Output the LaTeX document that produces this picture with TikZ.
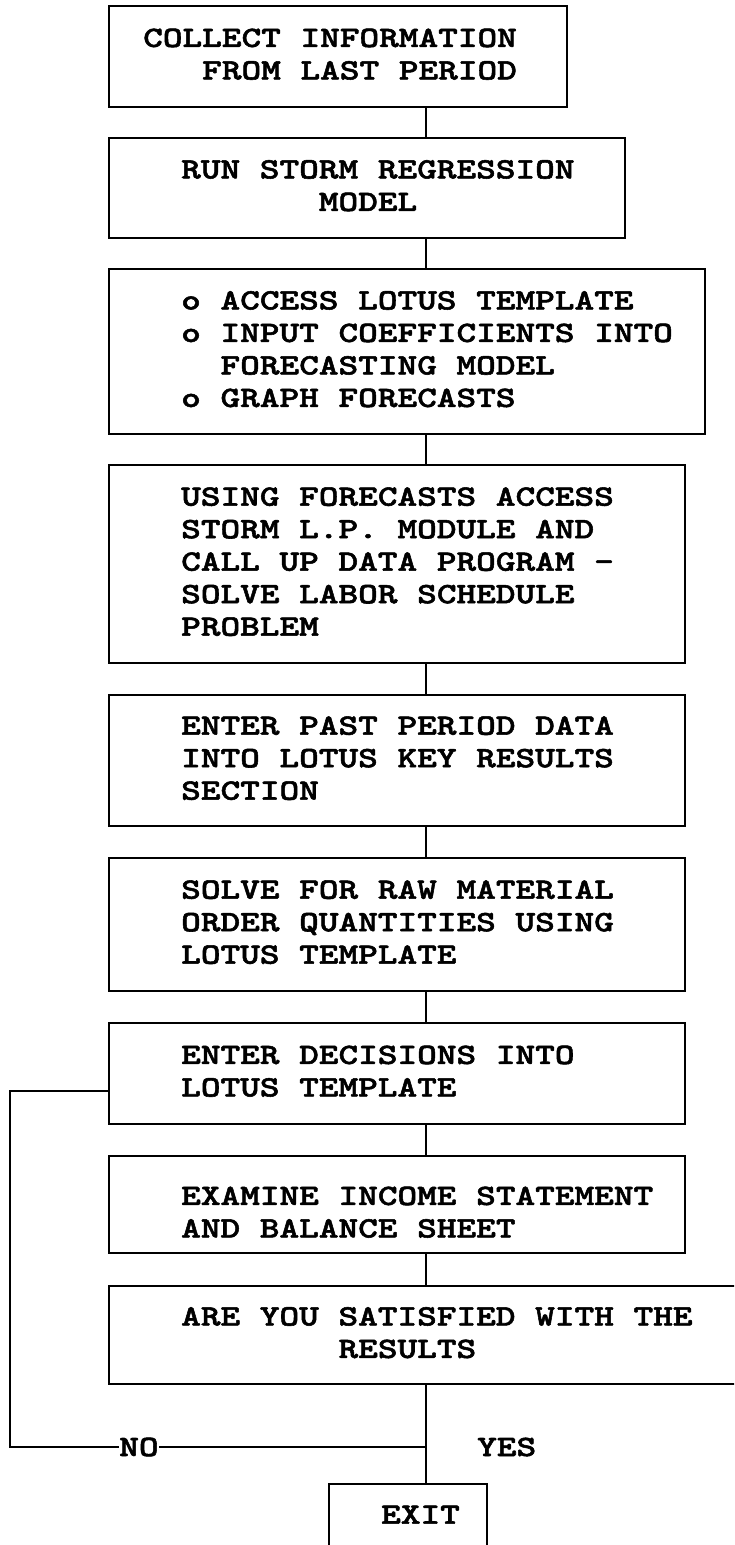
\documentclass[tikz,border=0pt]{standalone}
\usepackage{fontspec}
\newfontfamily\flowfont{lmmonolt10-bold.otf}[FakeStretch=1.27, FakeBold=1.8]
\usetikzlibrary{positioning}

% indented block of lines inside a box; every space is one character wide
\ExplSyntaxOn
\tl_new:N \l_flow_lines_tl
\NewDocumentCommand{\flowlines}{mm}{
  \tl_set:Nn \l_flow_lines_tl {#2}
  \tl_replace_all:Nnn \l_flow_lines_tl {~} {\phantom{X}}
  \hspace*{#1pt}\begin{tabular}{@{}l@{}}\tl_use:N \l_flow_lines_tl\end{tabular}
}
\ExplSyntaxOff
% blank of n characters
\newcommand{\chars}[1]{\phantom{#1}}
\newcommand{\flowtype}{\flowfont\fontsize{29.5}{32.5}\selectfont}

\begin{document}
\begin{tikzpicture}[x=1pt, y=1pt,
  stepbox/.style={draw, line width=2.4pt, inner sep=0pt, anchor=north west,
    font=\flowtype},
  link/.style={line width=2pt},
  answer/.style={inner sep=0pt, font=\flowtype}]
  \useasboundingbox (0,0) rectangle (734,-1545);
  \clip (0,0) rectangle (734,-1545);

  \node[stepbox, text width=458pt, minimum height=101pt] (collect) at (108,-5)
    {\flowlines{34}{COLLECT INFORMATION\\\chars{XXX}FROM LAST PERIOD}};
  \node[stepbox, text width=516pt, minimum height=100pt] (run) at (108,-137)
    {\flowlines{72}{RUN STORM REGRESSION\\\chars{XXXXXXX}MODEL}};
  \node[stepbox, text width=596pt, minimum height=165pt] (bullets) at (108,-268)
    {\flowlines{72}{o ACCESS LOTUS TEMPLATE\\o INPUT COEFFICIENTS INTO\\%
      \chars{XX}FORECASTING MODEL\\o GRAPH FORECASTS}};
  \node[stepbox, text width=576pt, minimum height=198pt] (using) at (108,-464)
    {\flowlines{72}{USING FORECASTS ACCESS\\STORM L.P. MODULE AND\\%
      CALL UP DATA PROGRAM -\\SOLVE LABOR SCHEDULE\\PROBLEM}};
  \node[stepbox, text width=576pt, minimum height=131pt] (past) at (108,-694)
    {\flowlines{72}{ENTER PAST PERIOD DATA\\INTO LOTUS KEY RESULTS\\SECTION}};
  \node[stepbox, text width=576pt, minimum height=133pt] (solve) at (108,-857)
    {\flowlines{72}{SOLVE FOR RAW MATERIAL\\ORDER QUANTITIES USING\\LOTUS TEMPLATE}};
  \node[stepbox, text width=576pt, minimum height=101pt] (decide) at (108,-1022)
    {\flowlines{72}{ENTER DECISIONS INTO\\LOTUS TEMPLATE}};
  % text sits a little low in this one
  \node[stepbox, text width=576pt, minimum height=97pt] (examine) at (108,-1155)
    {\flowlines{72}{\rule{0pt}{42.75pt}EXAMINE INCOME STATEMENT\\AND BALANCE SHEET}};
  % runs past the right edge
  \node[stepbox, text width=660pt, minimum height=98pt] (satisfy) at (108,-1285)
    {\flowlines{72}{ARE YOU SATISFIED WITH THE\\\chars{XXXXXXXX}RESULTS}};
  \node[stepbox, text width=158pt, minimum height=66pt] (exit) at (328,-1483)
    {\flowlines{52}{EXIT}};

  % main line
  \coordinate (spine) at (426,0);
  \foreach \a/\b in {collect/run, run/bullets, bullets/using, using/past,
      past/solve, solve/decide, decide/examine, examine/satisfy, satisfy/exit}
    \draw[link] (\a.south -| spine) -- (\b.north -| spine);

  % loop back when not satisfied
  \coordinate (fork) at (426,-1447);
  \coordinate (loopleft) at (10,-1447);
  \draw[link] (fork) -- node[pos=0.69, answer, fill=white] (no) {NO} (loopleft)
    |- ([yshift=-17.5pt]decide.west);
  \node[answer, right=51pt of fork] (yes) {YES};
\end{tikzpicture}
\end{document}
